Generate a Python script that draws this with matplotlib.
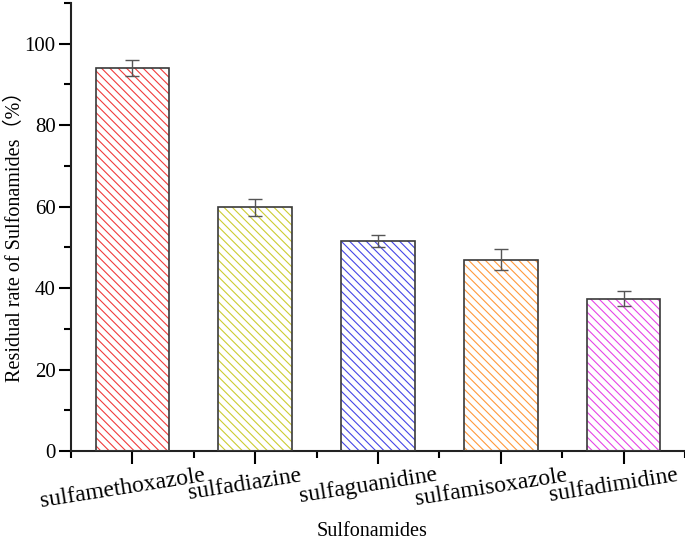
import numpy as np
import matplotlib
matplotlib.use('Agg')
import matplotlib.pyplot as plt
import matplotlib.transforms as mtransforms
from matplotlib.ticker import MultipleLocator

plt.rcParams['font.family'] = ['Liberation Serif', 'Noto Sans CJK SC']
plt.rcParams['hatch.linewidth'] = 0.8

# data
drugs = ['sulfamethoxazole', 'sulfadiazine', 'sulfaguanidine',
         'sulfamisoxazole', 'sulfadimidine']
residual = [94.0, 59.8, 51.6, 47.0, 37.4]
errors = [1.9, 2.1, 1.4, 2.5, 1.9]
colors = ['#F03c3c', '#CCCC33', '#4646E6', '#FF9A3C', '#E646E6']

fig = plt.figure(figsize=(6.85, 5.41), dpi=100)
ax = fig.add_axes([0.1036, 0.1664, 0.8964, 0.828])

x = np.arange(1, len(drugs) + 1)

# hatched fill in bar colour, then dark outline on top
for xi, val, col in zip(x, residual, colors):
    ax.bar(xi, val, width=0.6, color='none', edgecolor=col, hatch='\\\\\\\\',
           linewidth=0, zorder=2)
ax.bar(x, residual, width=0.6, fill=False, edgecolor='#3a3a3a',
       linewidth=1.2, zorder=3)
ax.errorbar(x, residual, yerr=errors, fmt='none', ecolor='#555555',
            elinewidth=1.0, capsize=5, capthick=1.0, zorder=4)

ax.set_xlim(0.5, 5.5)
ax.set_ylim(0, 110)
ax.yaxis.set_major_locator(MultipleLocator(20))
ax.yaxis.set_minor_locator(MultipleLocator(10))
ax.set_xticks(x)
ax.set_xticks(np.arange(0.5, 6.0, 1.0), minor=True)
ax.set_xticklabels(drugs, rotation=9, ha='center', fontsize=17)

for side in ['top', 'right']:
    ax.spines[side].set_visible(False)
for side in ['left', 'bottom']:
    ax.spines[side].set_linewidth(1.5)
    ax.spines[side].set_color('#222222')

ax.tick_params(axis='y', which='major', direction='out', length=9, width=1.5,
               labelsize=15, pad=2)
ax.tick_params(axis='y', which='minor', direction='out', length=5, width=1.5)
ax.tick_params(axis='x', which='major', direction='out', length=9, width=1.5,
               pad=1)
ax.tick_params(axis='x', which='minor', direction='out', length=5, width=1.5)

# labels sit a little left of their ticks in the reference
# (done after tick_params, which resets the label transforms)
shift = mtransforms.ScaledTranslation(-10 / 100, 0, fig.dpi_scale_trans)
for lbl in ax.get_xticklabels():
    lbl.set_transform(lbl.get_transform() + shift)

ax.set_ylabel('Residual rate of Sulfonamides（%）', fontsize=14.5)
ax.yaxis.set_label_coords(-0.074, 0.49)
ax.set_xlabel('Sulfonamides', fontsize=14.5)
ax.xaxis.set_label_coords(0.49, -0.159)

fig.savefig('out.png', dpi=100)
